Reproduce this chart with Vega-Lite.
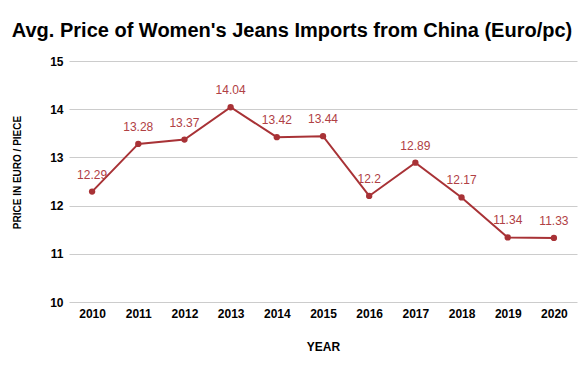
{
  "$schema": "https://vega.github.io/schema/vega-lite/v6.json",
  "width": 508,
  "height": 241,
  "autosize": {"type": "none"},
  "padding": {"left": 69, "top": 61, "right": 8, "bottom": 69},
  "title": {
    "text": "Avg. Price of Women's Jeans Imports from China (Euro/pc)",
    "font": "Liberation Sans",
    "fontSize": 20,
    "fontWeight": "bold",
    "color": "#000000",
    "anchor": "middle",
    "offset": 14,
    "dx": -31
  },
  "config": {
    "view": {"stroke": null},
    "font": "Liberation Sans"
  },
  "data": {
    "values": [
      {"year": "2010", "price": 12.29},
      {"year": "2011", "price": 13.28},
      {"year": "2012", "price": 13.37},
      {"year": "2013", "price": 14.04},
      {"year": "2014", "price": 13.42},
      {"year": "2015", "price": 13.44},
      {"year": "2016", "price": 12.2},
      {"year": "2017", "price": 12.89},
      {"year": "2018", "price": 12.17},
      {"year": "2019", "price": 11.34},
      {"year": "2020", "price": 11.33}
    ]
  },
  "encoding": {
    "x": {
      "field": "year",
      "type": "ordinal",
      "scale": {"type": "point", "padding": 0.5},
      "axis": {
        "title": "YEAR",
        "titleFont": "Liberation Sans",
        "titleFontSize": 12,
        "titleFontWeight": "bold",
        "titleColor": "#000000",
        "titlePadding": 22,
        "labelAngle": 0,
        "labelFont": "Liberation Sans",
        "labelFontSize": 12,
        "labelFontWeight": "bold",
        "labelColor": "#000000",
        "labelPadding": 6,
        "ticks": false,
        "domain": false,
        "grid": false
      }
    },
    "y": {
      "field": "price",
      "type": "quantitative",
      "scale": {"domain": [10, 15], "nice": false, "zero": false},
      "axis": {
        "title": "PRICE IN EURO / PIECE",
        "titleFont": "Liberation Sans",
        "titleFontSize": 10,
        "titleFontWeight": "bold",
        "titleColor": "#000000",
        "titlePadding": 27,
        "titleY": 111,
        "values": [10, 11, 12, 13, 14, 15],
        "labelFont": "Liberation Sans",
        "labelFontSize": 12,
        "labelFontWeight": "bold",
        "labelColor": "#000000",
        "labelPadding": 6,
        "ticks": false,
        "domain": false,
        "grid": true,
        "gridColor": "#cccccc",
        "gridWidth": 1
      }
    }
  },
  "layer": [
    {
      "mark": {"type": "line", "color": "#a83236", "strokeWidth": 2}
    },
    {
      "mark": {"type": "point", "filled": true, "color": "#a83236", "size": 40, "opacity": 1}
    },
    {
      "mark": {"type": "text", "color": "#b04044", "fontSize": 12, "dy": -17, "font": "Liberation Sans"},
      "encoding": {"text": {"field": "price", "type": "quantitative"}}
    }
  ]
}
